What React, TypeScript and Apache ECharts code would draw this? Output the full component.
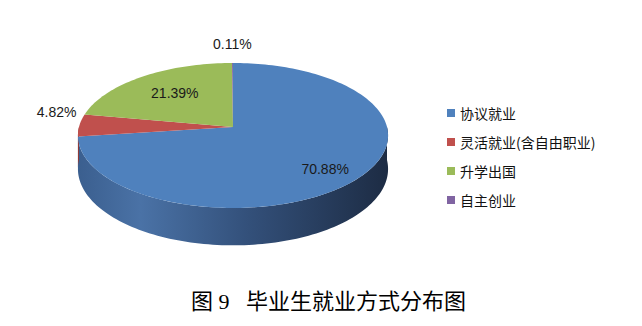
import React, { useEffect, useRef } from "react";
import * as echarts from "echarts";

// ---- data ----
const categories = ["协议就业", "灵活就业(含自由职业)", "升学出国", "自主创业"];
const shares = [70.88, 4.82, 21.39, 0.11];
const shareLabels = ["70.88%", "4.82%", "21.39%", "0.11%"];
const caption = "图 9   毕业生就业方式分布图";

// ---- style ----
const TOP_COLORS = ["#4F81BD", "#C0504D", "#9BBB59", "#8064A2"];
const SIDE_STOPS = [
  ["#3b5f8f", "#4a72a6", "#33507a", "#1d2c44"],
  ["#8f3a38", "#a84643", "#7a302e", "#4a1c1b"],
  ["#728a40", "#86a24c", "#657a38", "#3d4a22"],
  ["#5e4a78", "#6e578c", "#54436b", "#332941"],
];
// perspective pie geometry
const VX = 233;
const VY = 127;
const RX = 154;
const RY = 71.5;
const K = 0.117;
const DEPTH = 33;
// label placement: radius factor and vertical nudge
const LABEL_R = [0.75, 1.15, 0.62, 1.35];
const LABEL_DY = [4, -13, -2, 0];

const total = shares.reduce((a, b) => a + b, 0);

function project(thetaDeg: number, r: number, drop: number) {
  const t = (thetaDeg * Math.PI) / 180;
  const u = Math.sin(t) * r;
  const v = Math.cos(t) * r;
  const s = 1 / (1 + K * v);
  return [VX + RX * u * s, VY - RY * v * s + drop * s];
}

function arcPoints(a0: number, a1: number, drop: number) {
  const pts: number[][] = [];
  const n = Math.max(2, Math.ceil(Math.abs(a1 - a0) / 1.5));
  for (let i = 0; i <= n; i++) {
    pts.push(project(a0 + ((a1 - a0) * i) / n, 1, drop));
  }
  return pts;
}

export default function App() {
  const ref = useRef<HTMLDivElement>(null);
  useEffect(() => {
    if (!ref.current) return;
    const chart = echarts.init(ref.current, undefined, { renderer: "svg" });

    const series = categories.map((name, idx) => ({
      type: "custom",
      name,
      coordinateSystem: "none",
      itemStyle: { color: TOP_COLORS[idx] },
      data: [[shares[idx]]],
      renderItem: (params: any, api: any) => {
        const si = params.seriesIndex;
        let start = 0;
        for (let i = 0; i < si; i++) start += (shares[i] / total) * 360;
        const end = start + (api.value(0) / total) * 360;
        const children: any[] = [];
        // side wall (front half only: 90..270)
        const s0 = Math.max(start, 90);
        const s1 = Math.min(end, 270);
        if (s1 > s0) {
          const topArc = arcPoints(s0, s1, 0);
          const botArc = arcPoints(s0, s1, DEPTH).reverse();
          const st = SIDE_STOPS[si];
          children.push({
            type: "polygon",
            z2: 1,
            shape: { points: topArc.concat(botArc) },
            style: {
              fill: new echarts.graphic.LinearGradient(
                VX - RX,
                0,
                VX + RX,
                0,
                [
                  { offset: 0, color: st[0] },
                  { offset: 0.2, color: st[1] },
                  { offset: 0.55, color: st[2] },
                  { offset: 1, color: st[3] },
                ],
                true
              ),
            },
          });
        }
        // top face
        const pts = [[VX, VY]].concat(arcPoints(start, end, 0));
        children.push({
          type: "polygon",
          z2: 2,
          shape: { points: pts },
          style: { fill: TOP_COLORS[si] },
        });
        // label
        const mid = (start + end) / 2;
        const lp = project(mid, LABEL_R[si], 0);
        children.push({
          type: "text",
          z2: 5,
          style: {
            text: shareLabels[si],
            x: lp[0],
            y: lp[1] + LABEL_DY[si],
            fill: "#1a1a1a",
            fontSize: 14,
            fontFamily: '"Liberation Sans", Arial, sans-serif',
            align: "center",
            verticalAlign: "middle",
          },
        });
        return { type: "group", children };
      },
    }));

    chart.setOption({
      animation: false,
      backgroundColor: "#ffffff",
      title: {
        text: caption,
        left: 186,
        top: 285,
        textStyle: {
          fontSize: 22,
          fontWeight: "normal",
          color: "#000000",
          fontFamily: '"Liberation Serif", "Noto Sans CJK SC", serif',
        },
      },
      legend: {
        orient: "vertical",
        left: 442,
        top: 101,
        icon: "rect",
        itemWidth: 8,
        itemHeight: 8,
        itemGap: 15,
        textStyle: {
          fontSize: 14,
          color: "#111111",
          fontFamily: '"Noto Sans CJK SC", sans-serif',
        },
        data: categories,
      },
      series,
    });
    return () => chart.dispose();
  }, []);
  return (
    <div
      ref={ref}
      style={{ position: "absolute", left: 0, top: 0, width: 642, height: 326 }}
    />
  );
}
